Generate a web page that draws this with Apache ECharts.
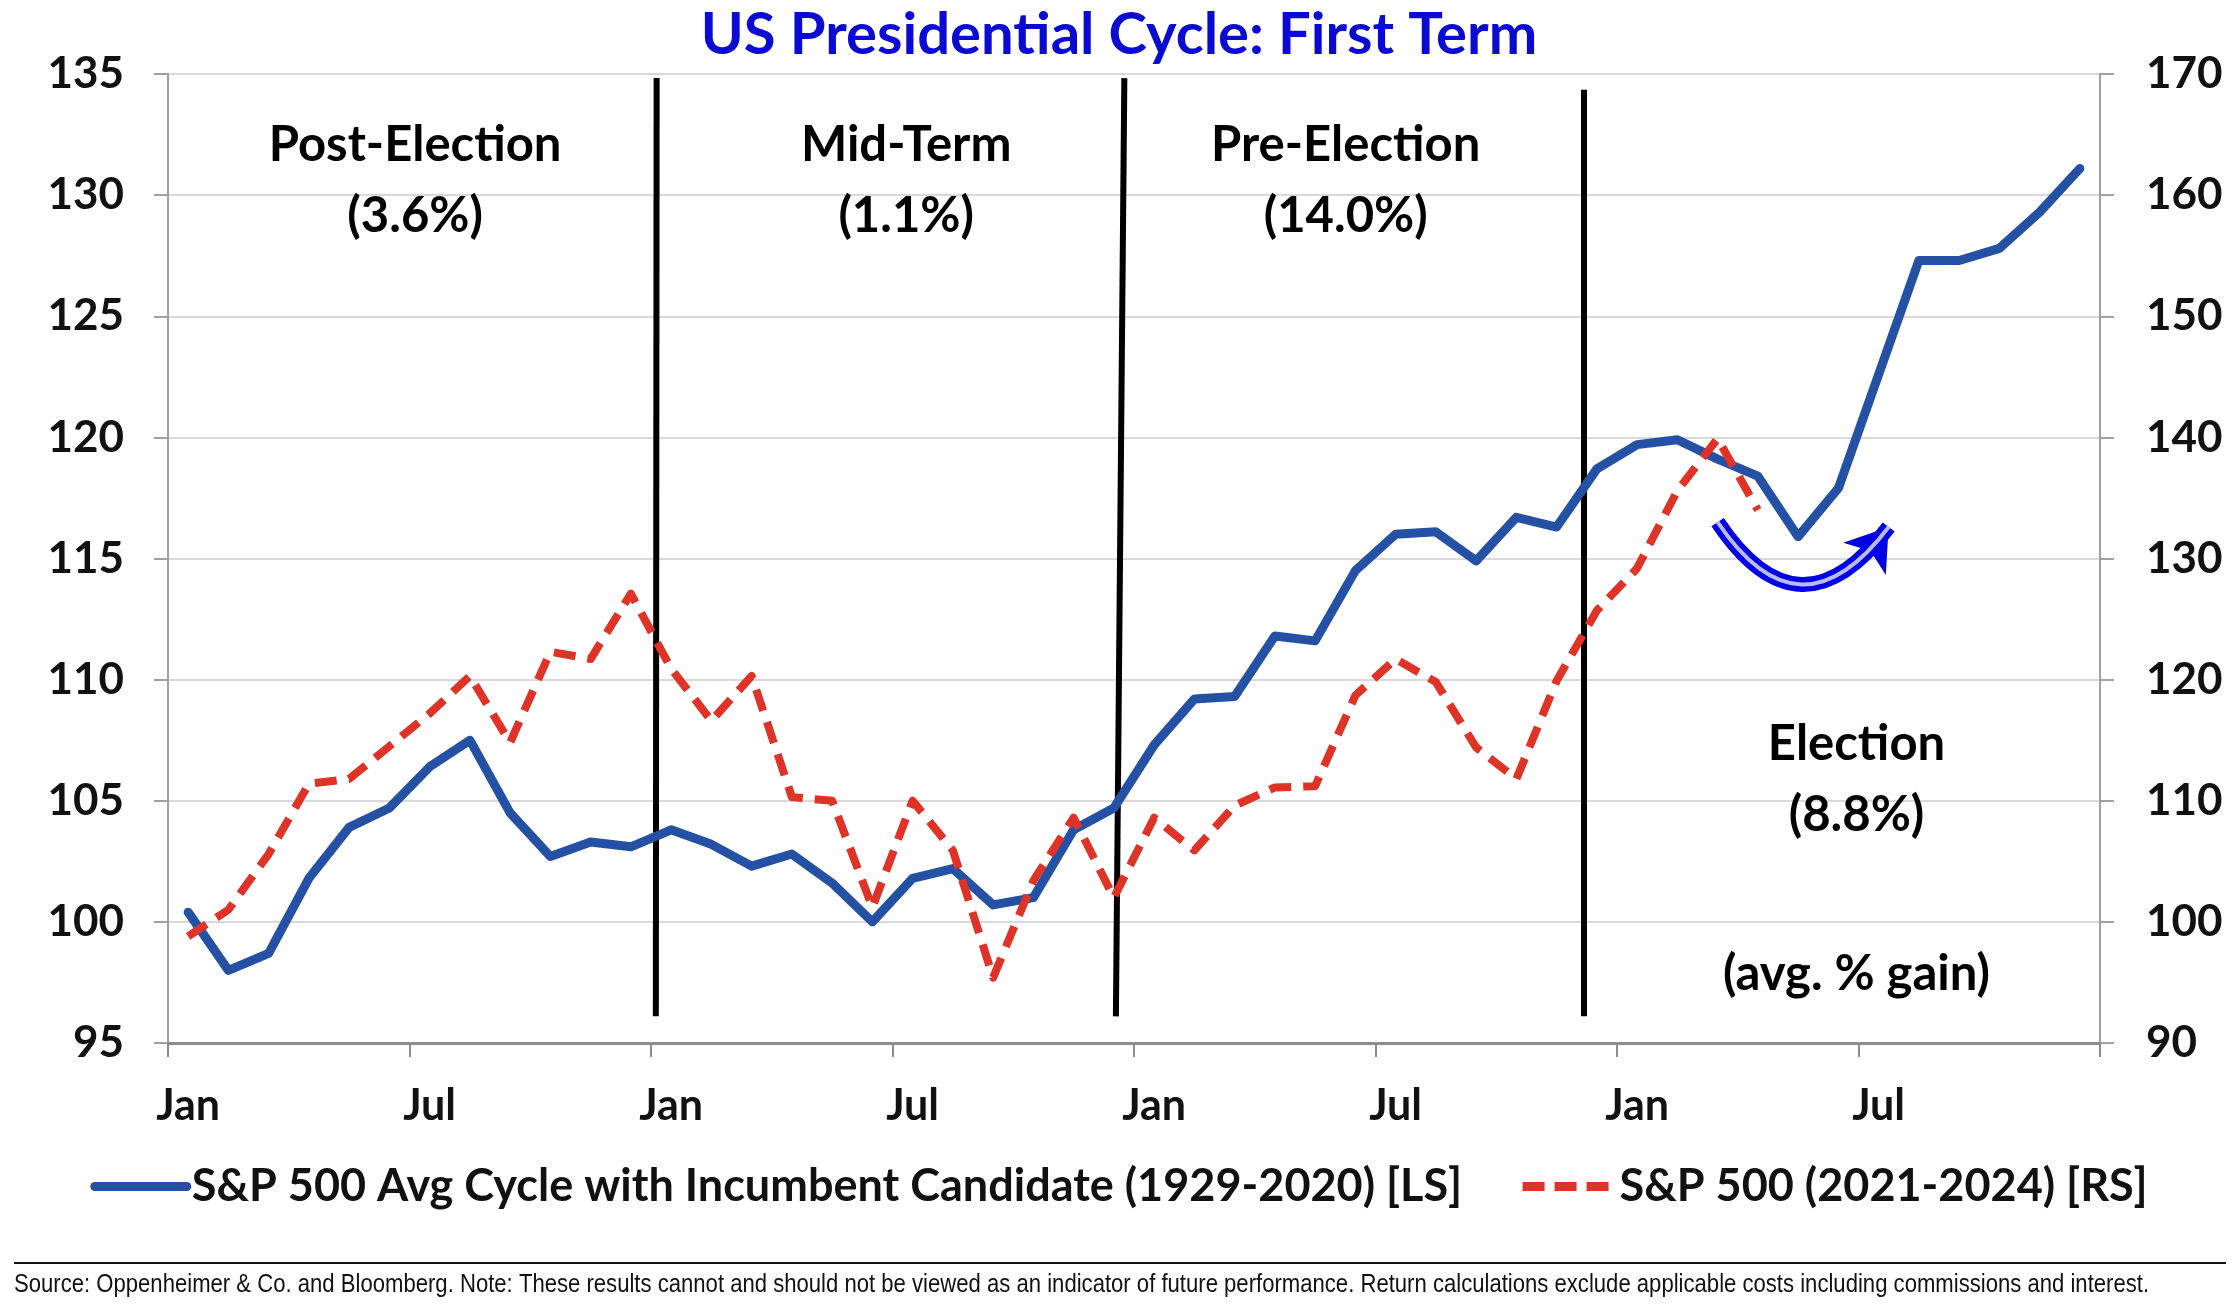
<!DOCTYPE html>
<html>
<head>
<meta charset="utf-8">
<script src="https://cdn.jsdelivr.net/npm/echarts@6/dist/echarts.min.js"></script>
<style>
html,body{margin:0;padding:0;background:#ffffff;}
#chart{width:2238px;height:1314px;}
</style>
</head>
<body>
<div id="chart"></div>
<script>
// ---------------- data ----------------
const monthNames = ['Jan','Feb','Mar','Apr','May','Jun','Jul','Aug','Sep','Oct','Nov','Dec'];
const categories = [];
for (let y = 0; y < 4; y++) { for (const m of monthNames) categories.push(m); }

const seriesNames = [
  'S&P 500 Avg Cycle with Incumbent Candidate (1929-2020) [LS]',
  'S&P 500 (2021-2024) [RS]'
];

// left axis (avg cycle, 48 months)
const avgCycle = [
  100.4, 98.0, 98.7, 101.8, 103.9, 104.7, 106.4, 107.5, 104.5, 102.7, 103.3, 103.1,
  103.8, 103.2, 102.3, 102.8, 101.6, 100.0, 101.8, 102.2, 100.7, 101.0, 103.8, 104.7,
  107.3, 109.2, 109.3, 111.8, 111.6, 114.5, 116.0, 116.1, 114.9, 116.7, 116.3, 118.7,
  119.7, 119.9, 119.1, 118.4, 115.9, 117.9, 122.6, 127.3, 127.3, 127.8, 129.3, 131.1
];

// right axis (2021-2024 actual, 40 months)
const sp500 = [
  98.8, 101.0, 105.6, 111.4, 111.8, 114.5, 117.2, 120.3, 114.8, 122.3, 121.7, 127.1,
  120.9, 116.6, 120.3, 110.3, 110.0, 101.2, 110.0, 105.9, 95.4, 103.4, 108.6, 102.0,
  108.6, 105.9, 109.6, 111.1, 111.2, 118.7, 121.7, 119.8, 114.4, 111.8, 119.9, 125.7,
  129.2, 135.6, 139.9, 134.0
];

const leftAxis = { min: 95, max: 135, interval: 5 };
const rightAxis = { min: 90, max: 170, interval: 10 };

const phaseLabels = [
  'Post-Election\n(3.6%)',
  'Mid-Term\n(1.1%)',
  'Pre-Election\n(14.0%)',
  'Election\n(8.8%)',
  '(avg. % gain)'
];

const titleText = 'US Presidential Cycle: First Term';
const sourceText = 'Source: Oppenheimer & Co. and Bloomberg. Note: These results cannot and should not be viewed as an indicator of future performance. Return calculations exclude applicable costs including commissions and interest.';

// ---------------- chart ----------------
const FONT = 'Lato, "Open Sans", "DejaVu Sans", sans-serif';
const BLUE = '#2451A4';
const RED = '#DE3326';
const ARROW = '#0000E6';

// annotation positions (month index on a 0..48 scale, left-axis value)
const phasePos = [[6.14, 130.6], [18.34, 130.6], [29.26, 130.6], [41.95, 105.85], [41.95, 97.85]];
const dividerPos = [
  [[12.12, 96.1], [12.14, 134.83]],
  [[23.55, 96.1], [23.76, 134.83]],
  [[35.18, 96.1], [35.18, 134.35]]
];
const arrowPos = [[38.5, 116.5], [42.75, 116.3]];

const chart = echarts.init(document.getElementById('chart'), null, { renderer: 'canvas' });

const option = {
  animation: false,
  backgroundColor: '#ffffff',
  title: [
    {
      text: titleText,
      left: 'center',
      top: 1,
      textStyle: { fontFamily: FONT, fontWeight: 'bold', fontSize: 58, color: '#0A0AD2' }
    }
  ],
  graphic: [
    { type: 'line', shape: { x1: 14, y1: 1263, x2: 2226, y2: 1263 }, style: { stroke: '#111111', lineWidth: 2 } },
    {
      type: 'text', x: 14, y: 1272, scaleX: 0.85, scaleY: 1,
      style: { text: sourceText, fill: '#111111', font: '26px "Liberation Sans", Arial, sans-serif', textVerticalAlign: 'top' }
    }
  ],
  legend: {
    bottom: 100,
    left: 'center',
    itemWidth: 92,
    itemHeight: 16,
    itemGap: 56,
    data: [
      { name: seriesNames[0], itemStyle: { opacity: 0 }, lineStyle: { width: 9, color: BLUE, type: 'solid', cap: 'round' } },
      { name: seriesNames[1], itemStyle: { opacity: 0 }, lineStyle: { width: 9, color: RED, type: [22, 10], cap: 'butt' } }
    ],
    textStyle: { fontFamily: FONT, fontWeight: 'bold', fontSize: 45, color: '#111111' }
  },
  grid: { left: 168, right: 138, top: 74, bottom: 271, containLabel: false },
  xAxis: [
    {
      type: 'category',
      data: categories,
      boundaryGap: true,
      axisLine: { lineStyle: { color: '#8c8c8c', width: 3 } },
      axisTick: { show: true, interval: 5, length: 14, lineStyle: { color: '#8c8c8c', width: 2 } },
      axisLabel: { interval: 5, margin: 42, fontFamily: FONT, fontWeight: 'bold', fontSize: 43, color: '#111111' },
      splitLine: { show: false }
    },
    { type: 'value', min: 0, max: 48, show: false }
  ],
  yAxis: [
    {
      type: 'value', position: 'left',
      min: leftAxis.min, max: leftAxis.max, interval: leftAxis.interval,
      axisLine: { show: true, lineStyle: { color: '#a0a0a0', width: 2 } },
      axisTick: { show: true, length: 14, lineStyle: { color: '#a0a0a0', width: 2 } },
      axisLabel: { margin: 44, fontFamily: FONT, fontWeight: 'bold', fontSize: 44, color: '#111111' },
      splitLine: { show: true, lineStyle: { color: '#d9d9d9', width: 2 } }
    },
    {
      type: 'value', position: 'right',
      min: rightAxis.min, max: rightAxis.max, interval: rightAxis.interval,
      axisLine: { show: true, lineStyle: { color: '#a0a0a0', width: 2 } },
      axisTick: { show: true, length: 14, lineStyle: { color: '#a0a0a0', width: 2 } },
      axisLabel: { margin: 46, fontFamily: FONT, fontWeight: 'bold', fontSize: 44, color: '#111111' },
      splitLine: { show: false }
    }
  ],
  series: [
    {
      type: 'lines',
      coordinateSystem: 'cartesian2d',
      xAxisIndex: 1, yAxisIndex: 0,
      silent: true,
      z: 1,
      lineStyle: { color: '#000000', width: 6, opacity: 1 },
      data: dividerPos.map(c => ({ coords: c }))
    },
    {
      name: seriesNames[0],
      type: 'line',
      xAxisIndex: 0, yAxisIndex: 0,
      data: avgCycle,
      symbol: 'none',
      z: 3,
      lineStyle: { color: BLUE, width: 9, join: 'round', cap: 'round' },
      itemStyle: { color: BLUE }
    },
    {
      name: seriesNames[1],
      type: 'line',
      xAxisIndex: 0, yAxisIndex: 1,
      data: sp500,
      symbol: 'none',
      z: 4,
      lineStyle: { color: RED, width: 8, type: [22, 12], cap: 'butt', join: 'round' },
      itemStyle: { color: RED }
    },
    {
      type: 'lines',
      coordinateSystem: 'cartesian2d',
      xAxisIndex: 1, yAxisIndex: 0,
      silent: true,
      z: 5,
      symbol: ['none', 'arrow'],
      symbolSize: 40,
      lineStyle: { color: ARROW, width: 15, curveness: -0.7, opacity: 1 },
      data: [{ coords: arrowPos }]
    },
    {
      type: 'lines',
      coordinateSystem: 'cartesian2d',
      xAxisIndex: 1, yAxisIndex: 0,
      silent: true,
      z: 6,
      lineStyle: { color: '#b9b9ff', width: 4, curveness: -0.7, opacity: 1 },
      data: [{ coords: arrowPos }]
    },
    {
      type: 'scatter',
      xAxisIndex: 1, yAxisIndex: 0,
      silent: true,
      symbolSize: 1,
      itemStyle: { color: '#ffffff', opacity: 1 },
      z: 7,
      label: {
        show: true,
        position: 'inside',
        formatter: '{b}',
        fontFamily: FONT,
        fontWeight: 'bold',
        fontSize: 49,
        lineHeight: 71,
        color: '#000000',
        opacity: 1,
        align: 'center',
        verticalAlign: 'middle'
      },
      data: phaseLabels.map((t, i) => ({ name: t, value: phasePos[i] }))
    }
  ]
};

chart.setOption(option);
</script>
</body>
</html>
